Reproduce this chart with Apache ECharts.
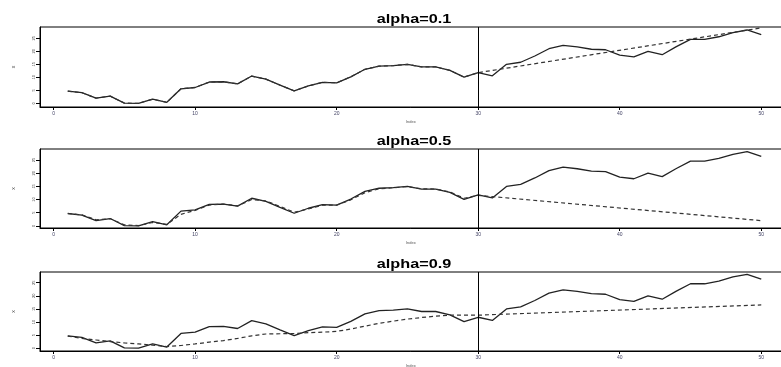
<!DOCTYPE html>
<html><head><meta charset="utf-8">
<script src="https://cdn.jsdelivr.net/npm/echarts@6/dist/echarts.min.js"></script>
<style>html,body{margin:0;padding:0;background:#fff}#c{width:781px;height:367px}</style>
</head><body><div id="c"></div>
<script>
// observed series (index 1..50)
const series = [4.7,4.1,2.0,2.8,0.1,0.0,1.6,0.4,5.6,6.1,8.2,8.3,7.5,10.5,9.3,7.0,4.8,6.7,8.1,7.9,10.2,13.1,14.3,14.5,15.0,14.0,14.0,12.7,10.1,11.8,10.6,15.0,15.8,18.2,21.0,22.3,21.7,20.8,20.6,18.5,17.9,20.0,18.7,21.8,24.6,24.6,25.6,27.2,28.2,26.4];
// fitted values for index 1..30, per panel
const fit01 = [4.7,4.1,2.0,2.8,0.1,0.0,1.6,0.4,5.6,6.1,8.2,8.3,7.5,10.5,9.3,7.0,4.8,6.7,8.1,7.9,10.2,13.1,14.3,14.5,15.0,14.0,14.0,12.7,10.1,11.8];
const fit05 = [4.7,4.2,2.3,2.7,0.4,0.1,1.3,0.6,4.4,5.9,7.9,8.3,7.6,10.0,9.5,7.4,5.2,6.4,7.9,7.9,9.9,12.6,14.1,14.5,14.9,14.1,14.0,12.9,10.5,11.6];
const fit09 = [4.6,3.7,3.1,2.5,2.0,1.6,1.1,0.6,1.0,1.6,2.3,2.9,3.7,4.7,5.4,5.5,5.6,5.9,6.1,6.4,7.3,8.4,9.5,10.3,11.1,11.7,12.2,12.6,12.6,12.6];
// forecast end point at index 50
const fc01 = 29.0, fc05 = 2.0, fc09 = 16.5;
const titles = ['alpha=0.1','alpha=0.5','alpha=0.9'];
const xTicks = [0,10,20,30,40,50];
const yTicks = [0,5,10,15,20,25];
const yRanges = [[-1.4,29.35],[-0.8,29.2],[-1.1,29.1]];
const tops = [27,149,272];
const heights = [80,79,79];

const chart = echarts.init(document.getElementById('c'));
const fits = [fit01, fit05, fit09];
const fcs = [fc01, fc05, fc09];
const grids=[], xAxes=[], yAxes=[], ser=[], gfx=[];
for (let i=0;i<3;i++){
  grids.push({left:40,width:749,top:tops[i],height:heights[i],show:true,borderColor:'#000',borderWidth:1,backgroundColor:'transparent',outerBoundsMode:'none',containLabel:false});
  xAxes.push({type:'value',gridIndex:i,min:-0.96,max:51.96,splitLine:{show:false},
    axisLine:{show:true,onZero:false,lineStyle:{color:'#000'}},
    axisTick:{show:true,length:3,customValues:xTicks,lineStyle:{color:'#000'}},
    axisLabel:{customValues:xTicks,fontSize:5,color:'#446',margin:4,fontFamily:'Liberation Sans'}});
  yAxes.push({type:'value',gridIndex:i,min:yRanges[i][0],max:yRanges[i][1],splitLine:{show:false},
    axisLine:{show:true,onZero:false,lineStyle:{color:'#000'}},
    axisTick:{show:true,length:4,customValues:yTicks,lineStyle:{color:'#000'}},
    axisLabel:{customValues:yTicks,fontSize:4,color:'#444',rotate:90,margin:4,fontFamily:'Liberation Sans'},
    name:'x',nameLocation:'middle',nameGap:24,nameRotate:90,nameTextStyle:{fontSize:5,color:'#444'}});
  gfx.push({type:'text',x:414,y:tops[i]-14,scaleX:1.3,
    style:{text:titles[i],align:'center',verticalAlign:'top',fontSize:12.5,fontWeight:'bold',fill:'#000',fontFamily:'Liberation Sans'}});
  gfx.push({type:'text',left:406,top:tops[i]+heights[i]+13,style:{text:'Index',fontSize:4,fill:'#555',fontFamily:'Liberation Sans'}});
  ser.push({type:'line',xAxisIndex:i,yAxisIndex:i,data:series.map((v,k)=>[k+1,v]),symbol:'none',
    lineStyle:{color:'#222',width:1.3},z:3,
    markLine:{silent:true,symbol:'none',label:{show:false},lineStyle:{color:'#000',width:1,type:'solid'},data:[{xAxis:30}]}});
  const d = fits[i].map((v,k)=>[k+1,v]); d.push([50,fcs[i]]);
  ser.push({type:'line',xAxisIndex:i,yAxisIndex:i,data:d,symbol:'none',
    lineStyle:{color:'#333',width:1.2,type:[4,3]},z:4});
}
chart.setOption({animation:false,grid:grids,xAxis:xAxes,yAxis:yAxes,series:ser,graphic:gfx});
</script></body></html>
